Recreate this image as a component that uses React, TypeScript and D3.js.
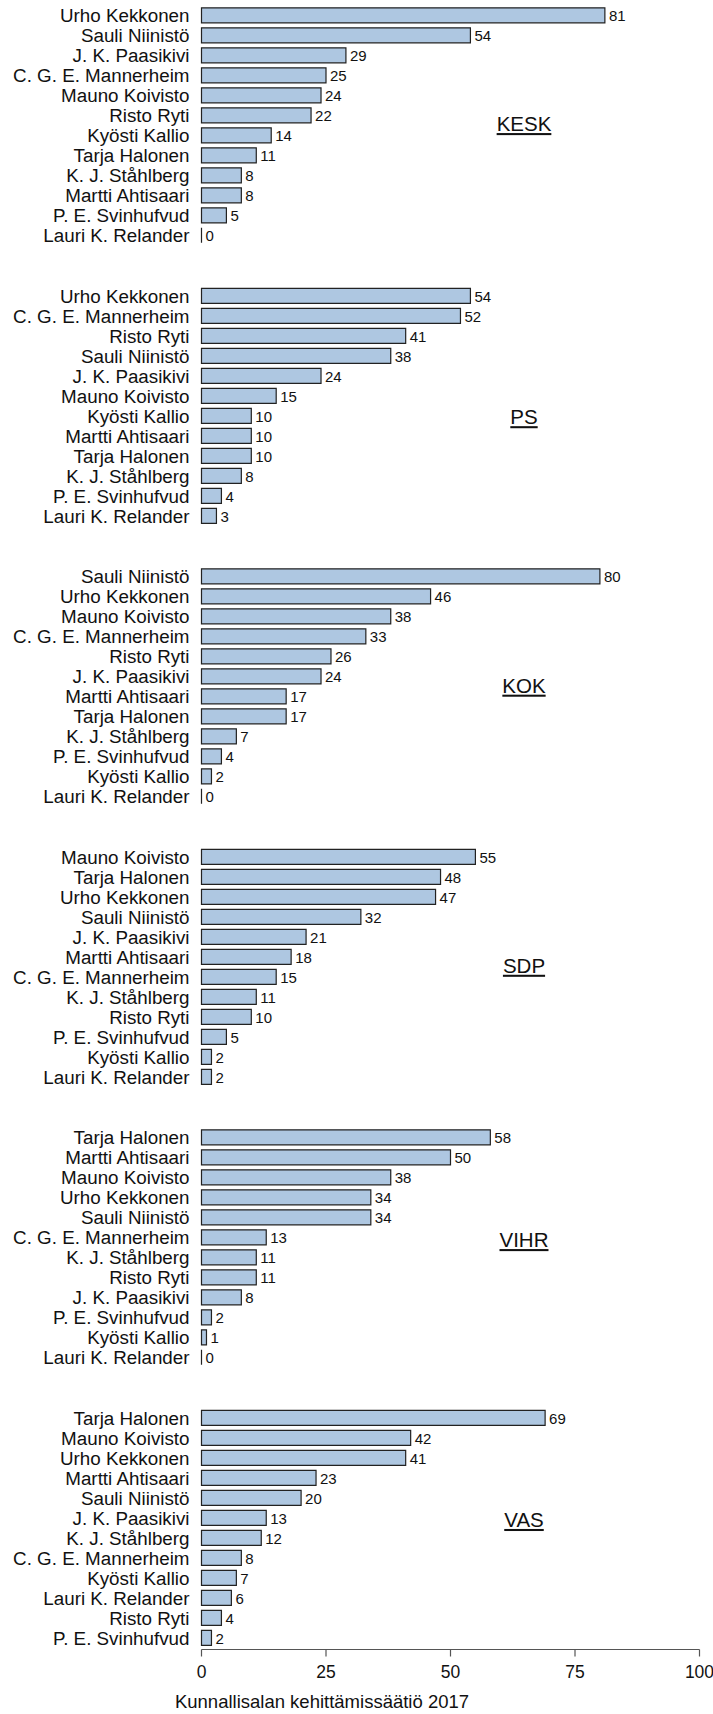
import * as d3 from 'd3';

const W = 713;
const H = 1714;

const parties = ['KESK', 'PS', 'KOK', 'SDP', 'VIHR', 'VAS'];

const keskNames = ['Urho Kekkonen', 'Sauli Niinistö', 'J. K. Paasikivi', 'C. G. E. Mannerheim', 'Mauno Koivisto', 'Risto Ryti', 'Kyösti Kallio', 'Tarja Halonen', 'K. J. Ståhlberg', 'Martti Ahtisaari', 'P. E. Svinhufvud', 'Lauri K. Relander'];
const keskValues = [81, 54, 29, 25, 24, 22, 14, 11, 8, 8, 5, 0];

const psNames = ['Urho Kekkonen', 'C. G. E. Mannerheim', 'Risto Ryti', 'Sauli Niinistö', 'J. K. Paasikivi', 'Mauno Koivisto', 'Kyösti Kallio', 'Martti Ahtisaari', 'Tarja Halonen', 'K. J. Ståhlberg', 'P. E. Svinhufvud', 'Lauri K. Relander'];
const psValues = [54, 52, 41, 38, 24, 15, 10, 10, 10, 8, 4, 3];

const kokNames = ['Sauli Niinistö', 'Urho Kekkonen', 'Mauno Koivisto', 'C. G. E. Mannerheim', 'Risto Ryti', 'J. K. Paasikivi', 'Martti Ahtisaari', 'Tarja Halonen', 'K. J. Ståhlberg', 'P. E. Svinhufvud', 'Kyösti Kallio', 'Lauri K. Relander'];
const kokValues = [80, 46, 38, 33, 26, 24, 17, 17, 7, 4, 2, 0];

const sdpNames = ['Mauno Koivisto', 'Tarja Halonen', 'Urho Kekkonen', 'Sauli Niinistö', 'J. K. Paasikivi', 'Martti Ahtisaari', 'C. G. E. Mannerheim', 'K. J. Ståhlberg', 'Risto Ryti', 'P. E. Svinhufvud', 'Kyösti Kallio', 'Lauri K. Relander'];
const sdpValues = [55, 48, 47, 32, 21, 18, 15, 11, 10, 5, 2, 2];

const vihrNames = ['Tarja Halonen', 'Martti Ahtisaari', 'Mauno Koivisto', 'Urho Kekkonen', 'Sauli Niinistö', 'C. G. E. Mannerheim', 'K. J. Ståhlberg', 'Risto Ryti', 'J. K. Paasikivi', 'P. E. Svinhufvud', 'Kyösti Kallio', 'Lauri K. Relander'];
const vihrValues = [58, 50, 38, 34, 34, 13, 11, 11, 8, 2, 1, 0];

const vasNames = ['Tarja Halonen', 'Mauno Koivisto', 'Urho Kekkonen', 'Martti Ahtisaari', 'Sauli Niinistö', 'J. K. Paasikivi', 'K. J. Ståhlberg', 'C. G. E. Mannerheim', 'Kyösti Kallio', 'Lauri K. Relander', 'Risto Ryti', 'P. E. Svinhufvud'];
const vasValues = [69, 42, 41, 23, 20, 13, 12, 8, 7, 6, 4, 2];

const panelNames = [keskNames, psNames, kokNames, sdpNames, vihrNames, vasNames];
const panelValues = [keskValues, psValues, kokValues, sdpValues, vihrValues, vasValues];

// rivi, jonka kohdalle puolueen nimi osuu
const labelRow = [5.43, 6.06, 5.46, 5.44, 5.13, 5.1];

const xTicks = [0, 25, 50, 75, 100];
const caption = 'Kunnallisalan kehittämissäätiö 2017';

const FONT = '"Liberation Sans", Arial, sans-serif';

export default function App() {
  const x = d3.scaleLinear().domain([0, 100]).range([201.5, 699.5]);
  const panelTop = d3.scaleLinear().domain([0, 1]).range([5.3, 285.8]);
  const rowY = d3.scaleLinear().domain([0, 1]).range([10, 30]);
  const axisY = 1649.5;

  return (
    <svg
      width={W}
      height={H}
      style={{ position: 'absolute', left: 0, top: 0, background: '#fff' }}
      fontFamily={FONT}
    >
      {parties.map((party, p) => {
        const names = panelNames[p];
        const values = panelValues[p];
        const top = panelTop(p);
        const y = d3.scaleBand<number>()
          .domain(d3.range(names.length))
          .range([top, top + 240])
          .paddingInner(0.25)
          .paddingOuter(0.125);
        const bw = y.bandwidth();
        return (
          <g key={party}>
            {values.map((v, i) => {
              const y0 = y(i)!;
              const x0 = x(0);
              const x1 = x(v);
              const d = `M${x0},${y0}H${x1}V${y0 + bw}H${x0}Z`;
              return (
                <g key={i}>
                  <path d={d} fill="#aec7e1" stroke="#222" strokeWidth={1.2} />
                  <text
                    x={x0 - 12}
                    y={y0 + bw / 2}
                    dy="0.36em"
                    textAnchor="end"
                    fontSize={18.8}
                    fill="#111"
                  >
                    {names[i]}
                  </text>
                  <text
                    x={x1 + 4}
                    y={y0 + bw / 2}
                    dy="0.4em"
                    fontSize={15}
                    fill="#111"
                  >
                    {v}
                  </text>
                </g>
              );
            })}
            <text
              x={524}
              y={top + rowY(labelRow[p])}
              dy="0.35em"
              textAnchor="middle"
              fontSize={20.5}
              fill="#111"
              style={{ textDecoration: 'underline', textDecorationThickness: '2px' }}
            >
              {party}
            </text>
          </g>
        );
      })}

      <g>
        <line x1={x(0)} x2={x(100)} y1={axisY} y2={axisY} stroke="#555" strokeWidth={1.2} />
        {xTicks.map((t) => (
          <g key={t}>
            <line x1={x(t)} x2={x(t)} y1={axisY} y2={axisY + 7} stroke="#555" strokeWidth={1.2} />
            <text x={x(t)} y={1678} textAnchor="middle" fontSize={17.5} fill="#111">
              {t}
            </text>
          </g>
        ))}
      </g>

      <text x={322} y={1708} textAnchor="middle" fontSize={18.5} fill="#111">
        {caption}
      </text>
    </svg>
  );
}
